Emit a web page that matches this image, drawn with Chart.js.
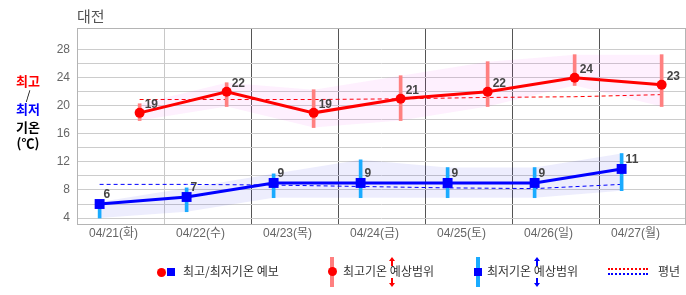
<!DOCTYPE html>
<html>
<head>
<meta charset="utf-8">
<script src="https://cdn.jsdelivr.net/npm/chart.js@4.4.0/dist/chart.umd.min.js"></script>
<style>
body { margin: 0; background: #fff; }
#wrap { position: relative; width: 686px; height: 295px; font-family: "Noto Sans CJK KR", "Liberation Sans", sans-serif; }
#c { position: absolute; left: 0; top: 0; }
.t { position: absolute; white-space: nowrap; }
.ylab { width: 56px; left: 0; text-align: center; font-weight: bold; font-size: 13px; line-height: 16px; }
.lg { font-size: 12px; line-height: 16px; color: #333; }
.box { position: absolute; }
.up { position: absolute; width: 0; height: 0; border-left: 3px solid transparent; border-right: 3px solid transparent; }
</style>
</head>
<body>
<div id="wrap">
  <canvas id="c" width="686" height="295"></canvas>

  <div class="t" style="left:77px;top:7px;font-size:15px;line-height:17px;color:#555;">대전</div>

  <div class="t ylab" style="top:73px;color:#f00;">최고</div>
  <div class="t ylab" style="top:87px;color:#000;font-weight:normal;font-size:12px;">/</div>
  <div class="t ylab" style="top:101px;color:#00f;">최저</div>
  <div class="t ylab" style="top:119px;color:#000;">기온</div>
  <div class="t ylab" style="top:135px;color:#000;">(℃)</div>

  <!-- legend -->
  <div class="box" style="left:157px;top:268px;width:9px;height:9px;border-radius:50%;background:#f00;"></div>
  <div class="box" style="left:167px;top:268px;width:8px;height:8px;background:#00f;"></div>
  <div class="t lg" style="left:183px;top:263px;">최고/최저기온 예보</div>

  <div class="box" style="left:330px;top:257px;width:4px;height:30px;background:#ff8080;"></div>
  <div class="box" style="left:328px;top:267px;width:9px;height:9px;border-radius:50%;background:#f00;"></div>
  <div class="t lg" style="left:343px;top:263px;">최고기온 예상범위</div>
  <div class="up" style="left:389px;top:257px;border-bottom:4px solid #f00;"></div>
  <div class="box" style="left:391px;top:260px;width:2px;height:6px;background:#f00;"></div>
  <div class="box" style="left:391px;top:278px;width:2px;height:6px;background:#f00;"></div>
  <div class="up" style="left:389px;top:283px;border-top:4px solid #f00;"></div>

  <div class="box" style="left:476px;top:257px;width:4px;height:30px;background:#1aabff;"></div>
  <div class="box" style="left:474px;top:268px;width:8px;height:8px;background:#00f;"></div>
  <div class="t lg" style="left:487px;top:263px;">최저기온 예상범위</div>
  <div class="up" style="left:534px;top:257px;border-bottom:4px solid #00f;"></div>
  <div class="box" style="left:536px;top:260px;width:2px;height:6px;background:#00f;"></div>
  <div class="box" style="left:536px;top:278px;width:2px;height:6px;background:#00f;"></div>
  <div class="up" style="left:534px;top:283px;border-top:4px solid #00f;"></div>

  <div class="box" style="left:608px;top:268px;width:40px;border-top:2px dotted #f00;"></div>
  <div class="box" style="left:608px;top:273px;width:40px;border-top:2px dotted #00f;"></div>
  <div class="t lg" style="left:658px;top:263px;">평년</div>
</div>

<script>
// 대전 주간 기온 예보
const dates = ['04/21(화)', '04/22(수)', '04/23(목)', '04/24(금)', '04/25(토)', '04/26(일)', '04/27(월)'];
const highTemp = [19, 22, 19, 21, 22, 24, 23];
const lowTemp = [6, 7, 9, 9, 9, 9, 11];
const highMin = [17.9, 19.9, 16.9, 17.9, 19.9, 22.9, 19.9];
const highMax = [20.3, 23.3, 22.3, 24.3, 26.3, 27.3, 27.3];
const lowMin = [4, 4.9, 6.9, 6.9, 6.9, 6.9, 7.9];
const lowMax = [6.3, 8.3, 10.3, 12.3, 11.2, 11.2, 13.2];
const normalHigh = [20.9, 20.9, 20.9, 21.0, 21.2, 21.3, 21.6];
const normalLow = [8.8, 8.8, 8.7, 8.5, 8.3, 8.2, 8.8];
const yTicks = [4, 6, 8, 10, 12, 14, 16, 18, 20, 22, 24, 26, 28];

// time-of-day position within each day column
const HIGH_POS = 0.72;
const LOW_POS = 0.26;
const LABEL_POS = 0.42;

const hiX = dates.map((d, i) => i + HIGH_POS);
const loX = dates.map((d, i) => i + LOW_POS);
const xy = (xs, ys) => ys.map((y, i) => ({ x: xs[i], y: y }));
const setTicks = vals => scale => { scale.ticks = vals.map(v => ({ value: v })); };
const noPad = s => { s.paddingLeft = 0; s.paddingRight = 0; s.paddingTop = 0; s.paddingBottom = 0; };

const frame = {
  id: 'frame',
  beforeDatasetsDraw(chart) {
    const a = chart.chartArea, c = chart.ctx;
    c.save();
    c.strokeStyle = '#b4b4b4';
    c.lineWidth = 1;
    c.strokeRect(a.left + 0.5, a.top + 0.5, a.right - a.left - 1, a.bottom - a.top);
    c.restore();
  }
};

const valueLabels = {
  id: 'valueLabels',
  afterDatasetsDraw(chart) {
    const c = chart.ctx;
    c.save();
    c.font = 'bold 12px "Liberation Sans", sans-serif';
    c.fillStyle = '#444';
    c.textAlign = 'left';
    c.textBaseline = 'alphabetic';
    chart.getDatasetMeta(7).data.forEach((p, i) => c.fillText(highTemp[i], p.x + 5, p.y - 5));
    chart.getDatasetMeta(8).data.forEach((p, i) => c.fillText(lowTemp[i], p.x + 4, p.y - 6));
    c.restore();
  }
};

new Chart(document.getElementById('c'), {
  type: 'line',
  data: {
    datasets: [
      { data: xy(hiX, highMax), borderWidth: 0, pointRadius: 0, fill: '+1', backgroundColor: 'rgba(230,0,230,0.06)', order: 5 },
      { data: xy(hiX, highMin), borderWidth: 0, pointRadius: 0, fill: false, order: 5 },
      { data: xy(loX, lowMax), borderWidth: 0, pointRadius: 0, fill: '+1', backgroundColor: 'rgba(0,0,230,0.07)', order: 5 },
      { data: xy(loX, lowMin), borderWidth: 0, pointRadius: 0, fill: false, order: 5 },
      { type: 'bar', data: hiX.map((x, i) => ({ x: x, y: [highMin[i], highMax[i]] })), backgroundColor: '#ff8080', barThickness: 3, grouped: false, order: 3 },
      { type: 'bar', data: loX.map((x, i) => ({ x: x, y: [lowMin[i], lowMax[i]] })), backgroundColor: '#1aabff', barThickness: 3, grouped: false, order: 3 },
      { data: xy(hiX, normalHigh), borderColor: '#f00', borderWidth: 1, borderDash: [4, 3], pointRadius: 0, fill: false, order: 6 },
      { data: xy(hiX, highTemp), borderColor: '#f00', borderWidth: 3, pointRadius: 5, pointBackgroundColor: '#f00', pointBorderWidth: 0, fill: false, order: 1 },
      { data: xy(loX, lowTemp), borderColor: '#00f', borderWidth: 3, pointStyle: 'rect', pointRadius: 7, pointBackgroundColor: '#00f', pointBorderWidth: 0, fill: false, order: 1 },
      { data: xy(loX, normalLow), borderColor: '#00f', borderWidth: 1, borderDash: [4, 3], pointRadius: 0, fill: false, order: 6 }
    ]
  },
  options: {
    responsive: false,
    animation: false,
    events: [],
    devicePixelRatio: 1,
    layout: { autoPadding: false, padding: { top: 28, right: 0, bottom: 0, left: 0 } },
    plugins: { legend: { display: false }, tooltip: { enabled: false } },
    scales: {
      x: {
        type: 'linear', min: 0, max: 7, offset: false,
        afterBuildTicks: setTicks([0, 1, 2, 3, 4, 5, 6, 7]),
        afterFit: s => { s.height = 0; noPad(s); },
        ticks: { display: false },
        border: { display: false },
        grid: {
          offset: false, drawTicks: false,
          color: c => (c.tick.value === 0 || c.tick.value === 7) ? 'rgba(0,0,0,0)' : (c.tick.value === 1 ? '#c8c8c8' : '#555')
        }
      },
      xl: {
        type: 'linear', position: 'bottom', min: 0, max: 7, offset: false,
        afterBuildTicks: setTicks(dates.map((d, i) => i + LABEL_POS)),
        afterFit: s => { s.height = 71; noPad(s); },
        ticks: {
          padding: 2, color: '#666', maxRotation: 0, autoSkip: false,
          font: { size: 12, family: '"Liberation Sans", "Noto Sans CJK KR", sans-serif' },
          callback: (v, i) => dates[i]
        },
        border: { display: false },
        grid: { display: false, drawTicks: false }
      },
      y: {
        min: 3.15, max: 31.1,
        afterBuildTicks: setTicks(yTicks),
        afterFit: s => { s.width = 77; noPad(s); },
        ticks: {
          padding: 7, color: '#666', autoSkip: false,
          font: { size: 12, family: '"Liberation Sans", sans-serif' },
          callback: v => (v % 4 === 0 ? v : '')
        },
        border: { display: false },
        grid: { color: '#ccc', drawTicks: false }
      }
    }
  },
  plugins: [frame, valueLabels]
});
</script>
</body>
</html>
